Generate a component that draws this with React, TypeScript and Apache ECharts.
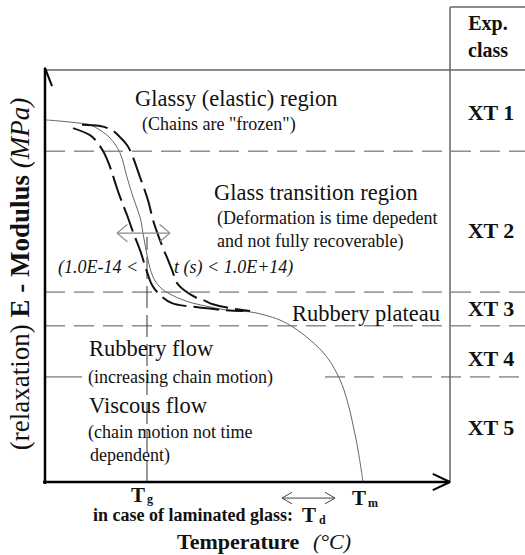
import React, { useEffect, useRef } from "react";
import * as echarts from "echarts";

// Temperature (arbitrary units) and E-modulus (arbitrary log units)
const THIN_T = [0, 3.75, 8.75, 11.25, 13.75, 16.25, 18.75, 20.5, 22, 23.75, 24.5, 25.75, 27, 28.75, 31.25, 34.5, 37, 41.25, 45.5, 51.25, 55, 58.75, 62, 66.25, 70.5, 73.75, 75.5, 76.75, 78.25, 79.5];
const THIN_E = [87.9, 87.6, 87.1, 86.7, 85.4, 83.5, 79.9, 74.0, 69.2, 64.3, 60.4, 53.9, 49.8, 47.3, 45.6, 44.2, 43.4, 42.5, 41.7, 41.3, 40.5, 39.3, 37.6, 34.5, 30.3, 24.8, 19.9, 15.0, 7.8, 0];

const LEFT_T = [7, 11.25, 13, 14.75, 16.25, 17.5, 18.75, 20.5, 22, 23.75, 25.5, 26.75, 28.75, 31.75, 35.5, 40.5, 45, 49.5];
const LEFT_E = [85.9, 84.2, 82.5, 79.9, 76.5, 72.8, 69.2, 64.8, 60.7, 56.3, 51.0, 47.8, 45.4, 43.4, 42.7, 42.2, 41.7, 41.5];

const RIGHT_T = [9.25, 13.75, 16.75, 18.75, 20.5, 21.75, 23.75, 25.75, 27, 28.25, 29.5, 30.75, 31.75, 33, 35, 37.5, 39.5, 41.75, 46.25, 51.25];
const RIGHT_E = [86.7, 86.4, 85.4, 83.7, 81.8, 79.4, 74.0, 68.4, 63.6, 60.0, 56.8, 53.9, 51.5, 48.3, 46.4, 44.9, 44.2, 43.2, 42.2, 41.5];

const BOUNDARY_E = [80.3, 46.1, 37.9];
const FLOW_BOUNDARY_E = 25.5;
const FLOW_BOUNDARY_LEFT_T = [0, 9.25];
const FLOW_BOUNDARY_RIGHT_T = [70, 120];

const T_MAX = 120;
const E_MAX = 100;
const AXIS_END_T = 101.25;
const HEADER_E = 115.3;
const TG_T = 25.5;
const TG_TOP_E = 59.5;
const RATE_ARROW = { e: 60.4, t0: 18, t1: 31.25 };
const TD_ARROW = { e: -3.9, t0: 59.25, t1: 72.5 };

const CLASSES = ["XT 1", "XT 2", "XT 3", "XT 4", "XT 5"];
const CLASS_Y = [112, 230, 308, 358, 427];

const SERIF = "Liberation Serif";

export default function App() {
  const ref = useRef<HTMLDivElement>(null);
  useEffect(() => {
    if (!ref.current) return;
    const chart = echarts.init(ref.current, undefined, { renderer: "svg" });
    const zip = (xs: number[], ys: number[]) => xs.map((x, i) => [x, ys[i]]);
    const line = (data: number[][], ls: any, smooth: any = false) => ({
      type: "line",
      data,
      symbol: "none",
      showSymbol: false,
      clip: false,
      silent: true,
      smooth,
      lineStyle: ls,
      z: 3,
    });
    const openArrow = (tipT: number, tipE: number, dT: number, dE: number) =>
      [[tipT + dT, tipE + dE], [tipT, tipE], [tipT + dT, tipE - dE]];
    const openArrowV = (tipT: number, tipE: number, dT: number, dE: number) =>
      [[tipT - dT, tipE + dE], [tipT, tipE], [tipT + dT, tipE + dE]];

    const grayDash = { color: "#555", width: 1, type: [20, 9] };
    const series: any[] = [];
    BOUNDARY_E.forEach((e) => series.push(line([[0, e], [T_MAX, e]], grayDash)));
    series.push(line(FLOW_BOUNDARY_LEFT_T.map((t) => [t, FLOW_BOUNDARY_E]), { color: "#555", width: 1 }));
    series.push(line(FLOW_BOUNDARY_RIGHT_T.map((t) => [t, FLOW_BOUNDARY_E]), grayDash));
    // frame
    series.push(line([[0.5, E_MAX], [T_MAX, E_MAX]], { color: "#666", width: 1.5 }));
    series.push(line([[AXIS_END_T, 0], [AXIS_END_T, HEADER_E]], { color: "#666", width: 1.5 }));
    series.push(line([[AXIS_END_T, HEADER_E], [T_MAX, HEADER_E]], { color: "#666", width: 1.5 }));
    // Tg line
    series.push(line([[TG_T, 0], [TG_T, TG_TOP_E]], { color: "#333", width: 1, type: [22, 7] }));
    // curves
    series.push(line(zip(THIN_T, THIN_E), { color: "#666", width: 1 }, 0.35));
    series.push(line(zip(LEFT_T, LEFT_E), { color: "#111", width: 2, type: [26, 7] }, 0.35));
    series.push(line(zip(RIGHT_T, RIGHT_E), { color: "#111", width: 2, type: [26, 7] }, 0.35));
    // rate arrow
    const ra = { color: "#888", width: 1.2 };
    series.push(line([[RATE_ARROW.t0, RATE_ARROW.e], [RATE_ARROW.t1, RATE_ARROW.e]], ra));
    series.push(line(openArrow(RATE_ARROW.t0, RATE_ARROW.e, 2.6, 2.1), ra));
    series.push(line(openArrow(RATE_ARROW.t1, RATE_ARROW.e, -2.6, 2.1), ra));
    // Td arrow
    const ta = { color: "#444", width: 1 };
    series.push(line([[TD_ARROW.t0, TD_ARROW.e], [TD_ARROW.t1, TD_ARROW.e]], ta));
    series.push(line(openArrow(TD_ARROW.t0, TD_ARROW.e, 2.5, 1.4), ta));
    series.push(line(openArrow(TD_ARROW.t1, TD_ARROW.e, -2.5, 1.4), ta));
    // axes
    const ax = { color: "#000", width: 2.5 };
    series.push(line([[-0.5, 0], [AXIS_END_T, 0]], ax));
    series.push(line([[0, -0.5], [0, 100.5]], ax));
    series.push(line(openArrow(AXIS_END_T, 0, -4.3, 1.95), { color: "#000", width: 2 }));
    series.push(line(openArrowV(0, 100.5, 1.75, -4.4), { color: "#000", width: 2 }));

    const txt = (text: string, x: number, y: number, size: number, opts: any = {}) => ({
      type: "text",
      x,
      y,
      silent: true,
      z: 10,
      style: {
        text,
        fontSize: size,
        fontFamily: SERIF,
        fontWeight: opts.bold ? "bold" : "normal",
        fontStyle: opts.italic ? "italic" : "normal",
        fill: "#111",
        align: opts.align || "left",
        textAlign: opts.align || "left",
        verticalAlign: "middle",
        textVerticalAlign: "middle",
      },
    });

    const graphics: any[] = [
      txt("Glassy (elastic) region", 135, 98, 22.5),
      txt('(Chains are "frozen")', 142, 124, 18),
      txt("Glass transition region", 214, 192, 22.5),
      txt("(Deformation is time depedent", 217, 218, 18),
      txt("and not fully recoverable)", 217, 241, 18),
      txt("(1.0E-14 <", 58, 267, 18, { italic: true }),
      txt("t (s) < 1.0E+14)", 174, 267, 18, { italic: true }),
      txt("Rubbery plateau", 292, 313, 22.5),
      txt("Rubbery flow", 89, 348, 22.5),
      txt("(increasing chain motion)", 88, 377, 18),
      txt("Viscous flow", 89, 405, 22.5),
      txt("(chain motion not time", 88, 432, 18),
      txt("dependent)", 90, 455, 18),
      txt("Exp.", 488, 23, 20, { bold: true, align: "center" }),
      txt("class", 488, 50, 20, { bold: true, align: "center" }),
      ...CLASSES.map((c, i) => txt(c, 491, CLASS_Y[i], 22, { bold: true, align: "center" })),
      txt("T", 131, 495, 21, { bold: true }),
      txt("g", 147, 499, 12, { bold: true }),
      txt("T", 352, 498, 21, { bold: true }),
      txt("m", 368, 503, 12, { bold: true }),
      txt("in case of laminated glass:", 93, 515, 18, { bold: true }),
      txt("T", 302, 515, 21, { bold: true }),
      txt("d", 319, 520, 12, { bold: true }),
      txt("Temperature", 177, 541, 22, { bold: true }),
      txt("(°C)", 313, 541, 22, { italic: true }),
      {
        type: "text",
        x: 20,
        y: 274,
        rotation: Math.PI / 2,
        silent: true,
        style: {
          text: "{a|(relaxation) }{b|E - Modulus }{c|(MPa)}",
          align: "center",
          textAlign: "center",
          verticalAlign: "middle",
          textVerticalAlign: "middle",
          fill: "#111",
          fontFamily: SERIF,
          fontSize: 27,
          rich: {
            a: { fontFamily: SERIF, fontSize: 27, fill: "#111" },
            b: { fontFamily: SERIF, fontSize: 27, fontWeight: "bold", fill: "#111" },
            c: { fontFamily: SERIF, fontSize: 27, fontStyle: "italic", fill: "#111" },
          },
        },
      },
    ];

    chart.setOption({
      animation: false,
      backgroundColor: "#fff",
      grid: { left: 45, right: 0, top: 70, bottom: 73 },
      xAxis: { type: "value", min: 0, max: T_MAX, show: false },
      yAxis: { type: "value", min: 0, max: E_MAX, show: false },
      series,
      graphic: graphics,
    });
    return () => chart.dispose();
  }, []);
  return (
    <div
      ref={ref}
      style={{ position: "fixed", left: 0, top: 0, width: 525, height: 555, background: "#fff" }}
    />
  );
}
